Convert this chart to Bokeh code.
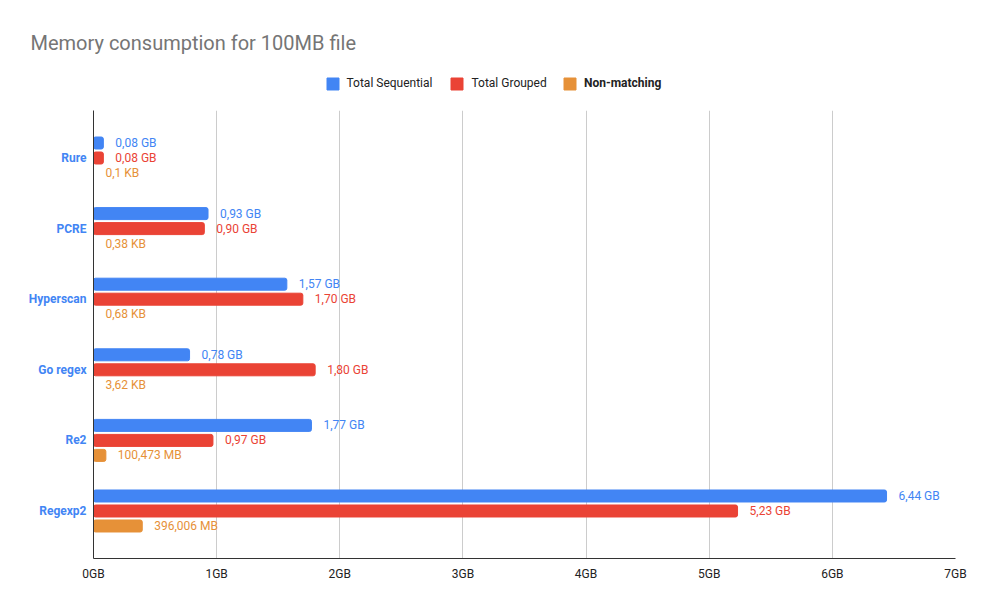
from bokeh.plotting import figure
from bokeh.layouts import column
from bokeh.models import Range1d, FixedTicker, Legend, LegendItem, Label, ColumnDataSource
from bokeh.core.properties import value
from bokeh.embed import file_html
from bokeh.resources import INLINE

# ---- data ----
categories = ["Rure", "PCRE", "Hyperscan", "Go regex", "Re2", "Regexp2"]
total_sequential_gb = [0.08, 0.93, 1.57, 0.78, 1.77, 6.44]
total_grouped_gb = [0.08, 0.90, 1.70, 1.80, 0.97, 5.23]
non_matching_amount = [0.1, 0.38, 0.68, 3.62, 100.473, 396.006]
non_matching_unit = ["KB", "KB", "KB", "KB", "MB", "MB"]
x_ticks_gb = [0, 1, 2, 3, 4, 5, 6, 7]
x_tick_labels = ["0GB", "1GB", "2GB", "3GB", "4GB", "5GB", "6GB", "7GB"]
series_names = ["Total Sequential", "Total Grouped", "Non-matching"]
title_text = "Memory consumption for 100MB file"

colors = ["#4285f4", "#ea4335", "#e69138"]
FONT = "Roboto"

unit_to_gb = {"KB": 1e-6, "MB": 1e-3, "GB": 1.0}
non_matching_gb = [a * unit_to_gb[u] for a, u in zip(non_matching_amount, non_matching_unit)]

def fmt(v, unit):
    return str(v).replace(".", ",") + " " + unit

seq_labels = [f"{v:.2f}".replace(".", ",") + " GB" for v in total_sequential_gb]
grp_labels = [f"{v:.2f}".replace(".", ",") + " GB" for v in total_grouped_gb]
nm_labels = [fmt(a, u) for a, u in zip(non_matching_amount, non_matching_unit)]

n = len(categories)
ypos = [n - 1 - i for i in range(n)]
pitch = 0.2125
bar_h = 0.17

sources = []
for k, (vals, labs) in enumerate([(total_sequential_gb, seq_labels),
                                   (total_grouped_gb, grp_labels),
                                   (non_matching_gb, nm_labels)]):
    ys = [y + pitch * (1 - k) for y in ypos]
    sources.append(ColumnDataSource(dict(y=ys, right=vals, lab=labs)))

# ---- header (title + legend) ----
head = figure(width=986, height=110, output_backend="svg", toolbar_location=None,
              title=None, x_range=Range1d(100, 101), y_range=Range1d(100, 101),
              min_border=0, min_border_left=0, min_border_right=0,
              min_border_top=0, min_border_bottom=0)
head.frame_align = False
head.axis.visible = False
head.grid.visible = False
head.outline_line_color = None

head.add_layout(Label(x=30, y=62, x_units="screen", y_units="screen", text=title_text,
                      text_font=FONT, text_font_size="20px", text_color="#757575",
                      text_baseline="alphabetic", y_offset=6))

legend_r = []
for k in range(3):
    legend_r.append(head.hbar(y="y", left=0, right="right", height=bar_h, source=sources[k],
                              fill_color=colors[k], line_color=colors[k], border_radius=2))

def make_legend(items, loc, style):
    lg = Legend(items=items, location=loc, orientation="horizontal",
                glyph_width=15, glyph_height=15, label_height=15, label_standoff=7,
                spacing=17, padding=0, margin=0, border_line_alpha=0,
                background_fill_alpha=0, label_text_font=FONT, label_text_font_size="12px",
                label_text_color="#222222", label_text_font_style=style)
    head.add_layout(lg, "center")

make_legend([LegendItem(label=series_names[0], renderers=[legend_r[0]]),
             LegendItem(label=series_names[1], renderers=[legend_r[1]])], (324.5, 19.5), "normal")
make_legend([LegendItem(label=series_names[2], renderers=[legend_r[2]])], (562, 19.5), "bold")

# ---- chart ----
p = figure(width=986, height=500, output_backend="svg", toolbar_location=None,
           title=None, x_range=Range1d(0, 7), y_range=Range1d(-0.673, n - 1 + 0.673),
           min_border_left=93, min_border_right=31, min_border_top=0, min_border_bottom=52)
p.frame_align = False
p.outline_line_color = None

for k in range(3):
    p.hbar(y="y", left=0, right="right", height=bar_h, source=sources[k],
           fill_color=colors[k], line_color=colors[k], line_width=1, border_radius=2)
    p.text(x="right", y="y", text="lab", source=sources[k], x_offset=12, text_baseline="middle",
           text_align="left", text_font=value(FONT), text_font_size="12px", text_color=colors[k])

p.xaxis.ticker = FixedTicker(ticks=x_ticks_gb)
p.xaxis.major_label_overrides = {t: l for t, l in zip(x_ticks_gb, x_tick_labels)}
p.xaxis.major_tick_line_color = None
p.xaxis.minor_tick_line_color = None
p.xaxis.major_tick_out = 0
p.xaxis.minor_tick_out = 0
p.xaxis.axis_line_color = "#333333"
p.xaxis.major_label_text_font = FONT
p.xaxis.major_label_text_font_size = "12px"
p.xaxis.major_label_text_color = "#222222"
p.xaxis.major_label_standoff = 8

p.yaxis.ticker = FixedTicker(ticks=ypos)
p.yaxis.major_label_overrides = {y: c for y, c in zip(ypos, categories)}
p.yaxis.major_tick_line_color = None
p.yaxis.minor_tick_line_color = None
p.yaxis.major_tick_out = 0
p.yaxis.minor_tick_out = 0
p.yaxis.axis_line_color = "#333333"
p.yaxis.major_label_text_font = FONT
p.yaxis.major_label_text_font_size = "12px"
p.yaxis.major_label_text_font_style = "bold"
p.yaxis.major_label_text_color = colors[0]
p.yaxis.major_label_standoff = 7

p.xgrid.grid_line_color = "#cccccc"
p.ygrid.grid_line_color = None

layout = column(head, p, spacing=0)
open("out.html", "w").write(file_html(layout, INLINE))
